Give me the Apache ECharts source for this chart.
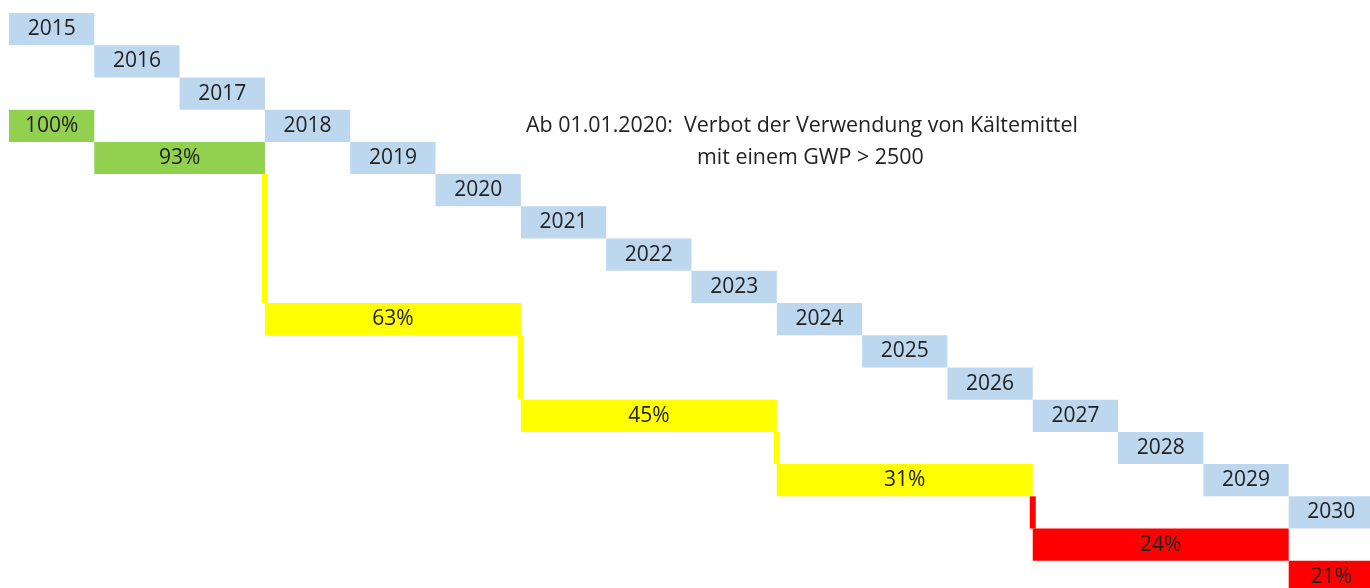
<!DOCTYPE html>
<html lang="de">
<head>
    <meta charset="UTF-8">
    <title>F-Gase Phase-down</title>
    <script src="https://cdn.jsdelivr.net/npm/echarts@6/dist/echarts.min.js"></script>
    <style>
        html, body { margin: 0; padding: 0; background: #fff; }
        #main { width: 1370px; height: 588px; }
    </style>
</head>
<body>
<div id="main"></div>
<script>
    // Jahre der Treppe
    var years = [2015, 2016, 2017, 2018, 2019, 2020, 2021, 2022, 2023,
                 2024, 2025, 2026, 2027, 2028, 2029, 2030];
    // Höchstmengen (Phase-down) in Prozent
    var shareValues = [100, 93, 63, 45, 31, 24, 21];
    var shareLabels = ['100%', '93%', '63%', '45%', '31%', '24%', '21%'];
    var shareFrom = [2015, 2016, 2018, 2021, 2024, 2027, 2030];
    var shareTo = [2015, 2017, 2020, 2023, 2026, 2029, 2030];
    // Stufe (Zeile) in der Treppe
    var shareLevel = [3, 4, 9, 12, 14, 16, 17];

    var noteLines = ['Ab 01.01.2020:  Verbot der Verwendung von Kältemittel',
                     'mit einem GWP > 2500'];

    var textColor = '#222222';
    var fontFamily = '"Open Sans", "Liberation Sans", sans-serif';

    function shareColor(v) {
        if (v >= 90) return '#92d050';
        if (v >= 30) return '#ffff00';
        return '#ff0000';
    }

    // Daten für die Serien
    var yearData = years.map(function (y) {
        return [y, y + 1, y - years[0], String(y)];
    });
    var shareData = shareValues.map(function (v, i) {
        return [shareFrom[i], shareTo[i] + 1, shareLevel[i], shareLabels[i], v];
    });
    // senkrechte Verbindungen zwischen den Stufen
    var linkData = [];
    for (var i = 1; i < shareValues.length; i++) {
        if (shareLevel[i] - shareLevel[i - 1] > 1) {
            linkData.push([shareFrom[i], shareLevel[i - 1] + 1, shareLevel[i], shareValues[i]]);
        }
    }

    function boxItem(fill) {
        return function (params, api) {
            var p0 = api.coord([api.value(0), api.value(2)]);
            var p1 = api.coord([api.value(1), api.value(2) + 1]);
            return {
                type: 'rect',
                shape: { x: p0[0], y: p0[1], width: p1[0] - p0[0], height: p1[1] - p0[1] },
                style: {
                    fill: fill || shareColor(api.value(4)),
                    text: api.value(3),
                    textFill: textColor,
                    fontSize: 21,
                    fontFamily: fontFamily,
                    textPosition: 'inside'
                }
            };
        };
    }

    var myChart = echarts.init(document.getElementById('main'));
    var option = {
        animation: false,
        grid: { left: 9, top: 13, width: 1365, height: 580, outerBoundsMode: 'none' },
        xAxis: { type: 'value', min: 2015, max: 2031, show: false },
        yAxis: { type: 'value', min: 0, max: 18, inverse: true, show: false },
        graphic: [
            {
                type: 'text', left: 526, top: 115,
                style: { text: noteLines[0], fill: textColor, fontSize: 21.4, fontFamily: fontFamily }
            },
            {
                type: 'text', left: 697, top: 147,
                style: { text: noteLines[1], fill: textColor, fontSize: 21.4, fontFamily: fontFamily }
            }
        ],
        series: [
            {
                type: 'custom',
                name: 'Jahre',
                renderItem: boxItem('#bdd7ee'),
                encode: { x: [0, 1], y: 2 },
                data: yearData
            },
            {
                type: 'custom',
                name: 'Anteil',
                renderItem: boxItem(null),
                encode: { x: [0, 1], y: 2 },
                data: shareData
            },
            {
                type: 'custom',
                name: 'Verbindung',
                renderItem: function (params, api) {
                    var p0 = api.coord([api.value(0), api.value(1)]);
                    var p1 = api.coord([api.value(0), api.value(2)]);
                    return {
                        type: 'rect',
                        shape: { x: p0[0] - 3, y: p0[1], width: 6, height: p1[1] - p0[1] },
                        style: { fill: shareColor(api.value(3)) }
                    };
                },
                encode: { x: 0, y: [1, 2] },
                data: linkData
            }
        ]
    };
    myChart.setOption(option);
</script>
</body>
</html>
